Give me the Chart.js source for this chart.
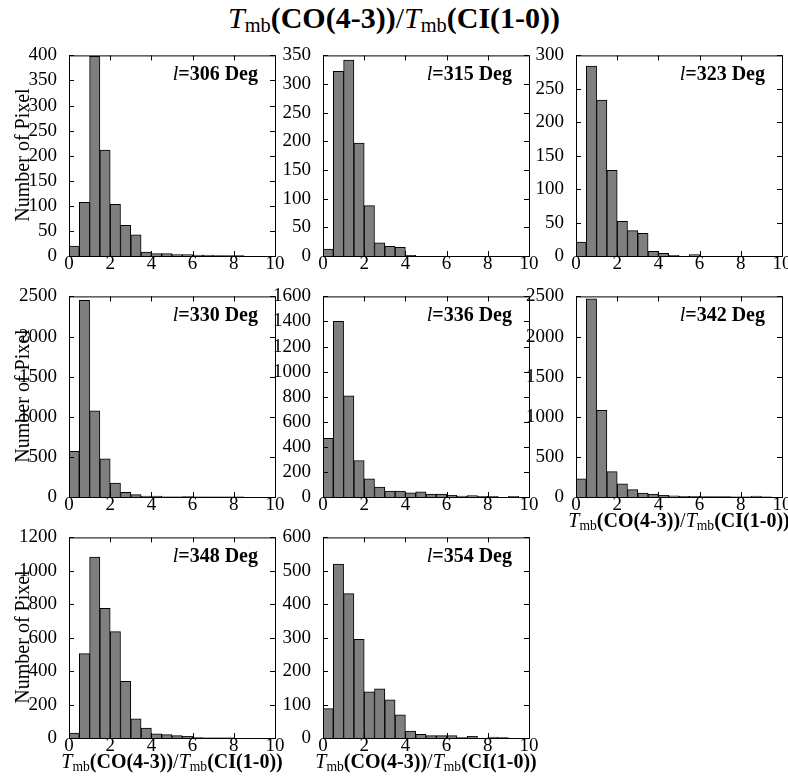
<!DOCTYPE html>
<html>
<head>
<meta charset="utf-8">
<script src="https://cdn.jsdelivr.net/npm/chart.js@4"></script>
<style>
  html, body { margin: 0; padding: 0; background: #fff; }
  #fig { position: relative; width: 788px; height: 783px; overflow: hidden;
         font-family: "Liberation Serif", "DejaVu Serif", serif; color: #000; }
  .panel { position: absolute; }
  .lbl   { position: absolute; font-size: 20px; line-height: 1; text-align: right; white-space: nowrap; }
  .ylab  { position: absolute; width: 220px; font-size: 20px; line-height: 1; text-align: center;
           transform: rotate(-90deg); white-space: nowrap; }
  .xlab  { position: absolute; font-size: 20px; line-height: 1; text-align: center; white-space: nowrap; }
  .title { position: absolute; left: 0; top: 3px; width: 788px; font-size: 30px; line-height: 1;
           text-align: center; white-space: nowrap; }
  .mb    { font-size: 0.68em; position: relative; top: 0.22em; }
</style>
</head>
<body>
<div id="fig"></div>
<script>
/* ── Data ────────────────────────────────────────── */
const binEdges   = [0, 0.5, 1, 1.5, 2, 2.5, 3, 3.5, 4, 4.5, 5, 5.5, 6, 6.5, 7, 7.5, 8, 8.5, 9, 9.5, 10];
const longitudes = [306, 315, 323, 330, 336, 342, 348, 354];

const counts306 = [20, 107, 398, 211, 103, 61, 42, 8, 5, 5, 3, 3, 2, 2, 1, 1, 1, 0, 0, 0];
const counts315 = [12, 322, 342, 197, 88, 23, 17, 15, 1, 0, 0, 0, 0, 0, 0, 0, 0, 0, 0, 0];
const counts323 = [21, 284, 233, 128, 52, 38, 34, 7, 4, 1, 0, 2, 0, 0, 0, 0, 0, 0, 0, 0];
const counts330 = [570, 2450, 1074, 475, 174, 58, 29, 12, 10, 3, 2, 5, 2, 1, 1, 1, 1, 0, 0, 0];
const counts336 = [468, 1402, 807, 291, 145, 79, 48, 48, 34, 42, 24, 24, 13, 8, 11, 5, 5, 0, 5, 0];
const counts342 = [227, 2471, 1079, 317, 165, 91, 49, 37, 20, 16, 8, 8, 5, 5, 4, 3, 3, 12, 2, 0];
const counts348 = [29, 505, 1082, 775, 636, 339, 114, 59, 25, 20, 14, 10, 2, 1, 1, 1, 0, 0, 0, 0];
const counts354 = [88, 520, 432, 295, 138, 147, 114, 69, 21, 11, 7, 7, 7, 1, 5, 0, 3, 1, 0, 0];

const allCounts = [counts306, counts315, counts323, counts330, counts336, counts342, counts348, counts354];
const yMax      = [400, 350, 300, 2500, 1600, 2500, 1200, 600];
const yStep     = [50, 50, 50, 500, 200, 500, 200, 100];
const xTickStep = 2;

/* ── Layout ──────────────────────────────────────── */
const colLeft = [69, 323, 576];
const rowTop  = [54, 295, 536];
const PW = 206, PH = 202;
const PAD_L = 50, PAD_T = 14, PAD_R = 14, PAD_B = 30;

const ratioHTML = '<i>T</i><span class="mb">mb</span><b>(CO(4-3))</b>/<i>T</i><span class="mb">mb</span><b>(CI(1-0))</b>';

/* draw frame + inward ticks on all four sides */
const innerTicks = {
  id: 'innerTicks',
  afterDraw(chart) {
    const { ctx, chartArea: a, scales: { x, y } } = chart;
    ctx.save();
    ctx.strokeStyle = '#000';
    ctx.lineWidth = 1;
    ctx.beginPath();
    x.ticks.forEach(t => {
      const px = Math.round(x.getPixelForValue(t.value)) + 0.5;
      ctx.moveTo(px, a.bottom); ctx.lineTo(px, a.bottom - 5);
      ctx.moveTo(px, a.top);    ctx.lineTo(px, a.top + 5);
    });
    y.ticks.forEach(t => {
      const py = Math.round(y.getPixelForValue(t.value)) + 0.5;
      ctx.moveTo(a.left, py);  ctx.lineTo(a.left + 5, py);
      ctx.moveTo(a.right, py); ctx.lineTo(a.right - 5, py);
    });
    ctx.stroke();
    ctx.strokeRect(a.left + 0.5, a.top + 0.5, a.right - a.left, a.bottom - a.top);
    ctx.restore();
  }
};

const fig = document.getElementById('fig');
const tickFont = { family: 'Liberation Serif', size: 19 };
const plain = v => String(v);   // no thousands separators

function addDiv(cls, html, style) {
  const d = document.createElement('div');
  d.className = cls;
  d.innerHTML = html;
  Object.assign(d.style, style);
  fig.appendChild(d);
  return d;
}

/* title */
addDiv('title', ratioHTML, {});

allCounts.forEach((counts, i) => {
  const L = colLeft[i % 3], T = rowTop[Math.floor(i / 3)];

  const cv = document.createElement('canvas');
  cv.className = 'panel';
  cv.width  = PW + PAD_L + PAD_R;
  cv.height = PH + PAD_T + PAD_B;
  cv.style.left = (L - PAD_L) + 'px';
  cv.style.top  = (T - PAD_T) + 'px';
  fig.appendChild(cv);

  new Chart(cv, {
    type: 'bar',
    data: {
      datasets: [{
        data: counts.map((c, k) => ({ x: (binEdges[k] + binEdges[k + 1]) / 2, y: c })),
        backgroundColor: '#7f7f7f',
        borderColor: '#000',
        borderWidth: 1,
        barPercentage: 1,
        categoryPercentage: 1,
      }]
    },
    options: {
      responsive: false,
      animation: false,
      events: [],
      layout: { padding: { left: 0, top: PAD_T, right: PAD_R, bottom: 0 } },
      plugins: { legend: { display: false }, tooltip: { enabled: false } },
      scales: {
        x: {
          type: 'linear', min: 0, max: 10, offset: false,
          grid: { display: false, offset: false }, border: { display: false },
          ticks: { stepSize: xTickStep, color: '#000', font: tickFont, padding: -11,
                   autoSkip: false, maxRotation: 0, callback: plain },
          afterFit(s) { s.height = PAD_B; }
        },
        y: {
          min: 0, max: yMax[i],
          grid: { display: false }, border: { display: false },
          ticks: { stepSize: yStep[i], color: '#000', font: tickFont, padding: 4,
                   autoSkip: false, callback: plain },
          afterFit(s) { s.width = PAD_L; }
        }
      }
    },
    plugins: [innerTicks]
  });

  /* panel label */
  addDiv('lbl', '<i>l</i><b>=' + longitudes[i] + ' Deg</b>', {
    left: L + 'px', top: (T + 9) + 'px', width: (PW - 17) + 'px'
  });

  /* y label on left column */
  if (i % 3 === 0) {
    addDiv('ylab', 'Number of Pixel', {
      left: (22 - 110) + 'px', top: (T + PH / 2 - 10) + 'px'
    });
  }
  /* x label on bottom-most panel of each column */
  if (i >= 5) {
    addDiv('xlab', ratioHTML, {
      left: (L - 20) + 'px', top: (T + PH + 13) + 'px', width: (PW + 40) + 'px'
    });
  }
});
</script>
</body>
</html>
